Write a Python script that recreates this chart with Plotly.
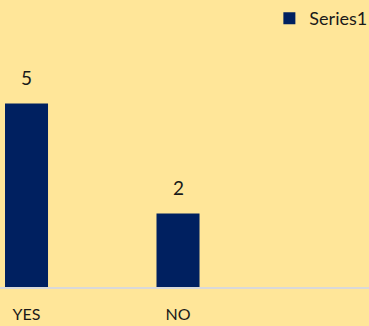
import plotly.graph_objects as go

categories = ["YES", "NO"]
values = [5, 2]
series_name = "Series1"

bg = "#FFE699"
bar_color = "#002060"
font_family = "Lato, Carlito, 'Open Sans', sans-serif"

fig = go.Figure()
fig.add_trace(go.Bar(
    x=categories, y=values, name=series_name,
    marker=dict(color=bar_color, line=dict(width=0)),
    width=0.284, showlegend=True,
))

for c, v in zip(categories, values):
    fig.add_annotation(x=c, y=v, text=str(v), showarrow=False,
                       yanchor="bottom", yshift=13,
                       font=dict(size=19, color="#1a1a1a", family=font_family))

fig.update_layout(
    width=369, height=326,
    margin=dict(l=0, r=0, t=0, b=39, pad=0, autoexpand=False),
    paper_bgcolor=bg, plot_bgcolor=bg,
    font=dict(family=font_family, color="#1a1a1a", size=14),
    showlegend=True,
    legend=dict(x=0.73, xanchor="left", y=1.0, yanchor="top",
                orientation="v", bgcolor="rgba(0,0,0,0)",
                font=dict(size=18, family=font_family, color="#1a1a1a"),
                itemwidth=30, tracegroupgap=0),
    xaxis=dict(type="category", range=[-0.175, 2.2607],
               showline=True, linecolor="#d9d9d9", linewidth=1.5,
               showgrid=False, zeroline=False,
               ticks="outside", ticklen=12, tickcolor="rgba(0,0,0,0)",
               tickfont=dict(size=16, family=font_family, color="#1a1a1a")),
    yaxis=dict(range=[0, 7.82], visible=False, showgrid=False, zeroline=False),
)

fig.write_html("out.html", config={"displayModeBar": False},
               post_script="document.body.style.margin='0';document.body.style.overflow='hidden';")
